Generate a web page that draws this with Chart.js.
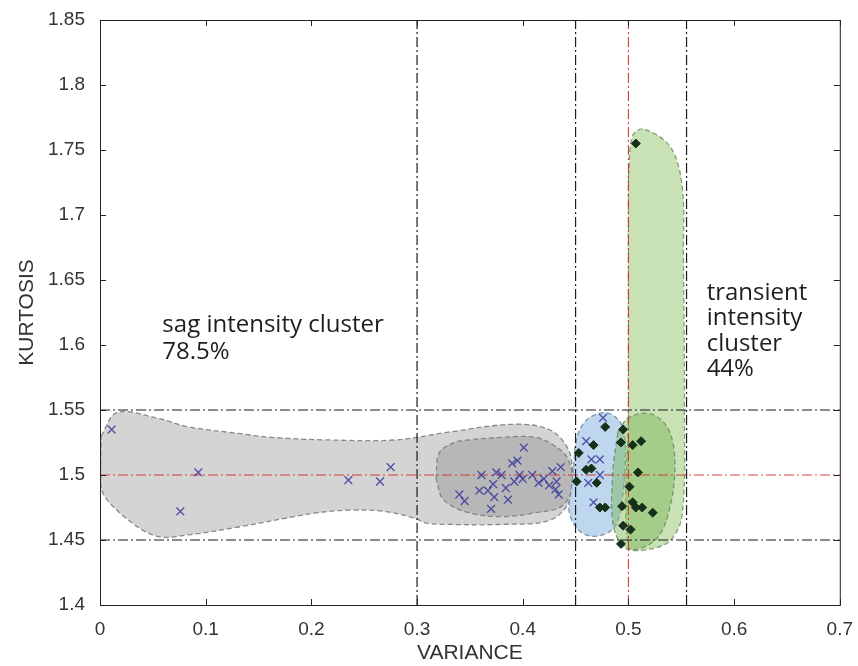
<!DOCTYPE html>
<html>
<head>
<meta charset="utf-8">
<script src="https://cdn.jsdelivr.net/npm/chart.js@4.4.0/dist/chart.umd.min.js"></script>
<style>
  html, body { margin: 0; padding: 0; background: #fff; }
  #wrap { width: 858px; height: 666px; }
</style>
</head>
<body>
<div id="wrap"><canvas id="grafico" width="858" height="666"></canvas></div>
<script>
// ticks
const xTicks = [0, 0.1, 0.2, 0.3, 0.4, 0.5, 0.6, 0.7];
const xTickLabels = ["0", "0.1", "0.2", "0.3", "0.4", "0.5", "0.6", "0.7"];
const yTicks = [1.4, 1.45, 1.5, 1.55, 1.6, 1.65, 1.7, 1.75, 1.8, 1.85];
const yTickLabels = ["1.4", "1.45", "1.5", "1.55", "1.6", "1.65", "1.7", "1.75", "1.8", "1.85"];

// limiares (linhas tracejadas)
const limiaresX = [0.3, 0.45, 0.555];
const limiaresY = [1.45, 1.55];
const limiarVermelhoX = 0.5;
const limiarVermelhoY = 1.5;

// pontos sag (x azul)
const cruces = [
  [0.011, 1.535], [0.076, 1.472], [0.093, 1.502], [0.235, 1.496], [0.265, 1.495], [0.275, 1.506],
  [0.340, 1.485], [0.345, 1.480], [0.361, 1.500], [0.359, 1.488], [0.367, 1.488], [0.370, 1.474],
  [0.372, 1.493], [0.373, 1.483], [0.375, 1.502], [0.380, 1.500], [0.384, 1.490], [0.386, 1.481],
  [0.390, 1.509], [0.392, 1.495], [0.395, 1.511], [0.397, 1.500], [0.400, 1.497], [0.401, 1.521],
  [0.409, 1.500], [0.415, 1.494], [0.420, 1.497], [0.425, 1.492], [0.428, 1.503], [0.432, 1.495],
  [0.431, 1.489], [0.434, 1.485], [0.436, 1.506],
  [0.476, 1.544], [0.460, 1.526], [0.465, 1.512], [0.473, 1.512], [0.473, 1.500], [0.462, 1.494],
  [0.467, 1.479]
];

// pontos transient (losangos)
const losangos = [
  [0.478, 1.537], [0.467, 1.523], [0.453, 1.517], [0.460, 1.504], [0.465, 1.505], [0.451, 1.495],
  [0.470, 1.494], [0.473, 1.475], [0.478, 1.475],
  [0.495, 1.535], [0.493, 1.525], [0.504, 1.523], [0.512, 1.526], [0.509, 1.502], [0.501, 1.491],
  [0.494, 1.476], [0.504, 1.479], [0.507, 1.475], [0.513, 1.475], [0.523, 1.471], [0.495, 1.461],
  [0.502, 1.458], [0.493, 1.447], [0.507, 1.755]
];

// contornos das regiões
const regiaoSagExterna = [
  [0.001, 1.530], [0.016, 1.548], [0.053, 1.544], [0.084, 1.537], [0.131, 1.532], [0.162, 1.529],
  [0.215, 1.527], [0.280, 1.527], [0.330, 1.533], [0.390, 1.539], [0.425, 1.535], [0.443, 1.520],
  [0.447, 1.499], [0.443, 1.478], [0.425, 1.465], [0.380, 1.462], [0.330, 1.462], [0.309, 1.463],
  [0.297, 1.467], [0.269, 1.472], [0.237, 1.473], [0.206, 1.471], [0.184, 1.468], [0.131, 1.460],
  [0.084, 1.454], [0.053, 1.453], [0.020, 1.470], [0.001, 1.490], [0.001, 1.530]
];
const regiaoSagInterna = [
  [0.318, 1.497], [0.321, 1.517], [0.335, 1.525], [0.349, 1.527], [0.381, 1.529], [0.412, 1.529],
  [0.431, 1.522], [0.443, 1.512], [0.447, 1.491], [0.437, 1.476], [0.412, 1.471], [0.381, 1.468],
  [0.349, 1.471], [0.325, 1.481], [0.318, 1.497]
];
const regiaoAzul = [
  [0.448, 1.506], [0.451, 1.528], [0.460, 1.542], [0.477, 1.548], [0.490, 1.543], [0.496, 1.532],
  [0.497, 1.510], [0.494, 1.481], [0.487, 1.460], [0.471, 1.453], [0.455, 1.456], [0.444, 1.471],
  [0.446, 1.490], [0.448, 1.506]
];
const regiaoVerdeAlta = [
  [0.500, 1.730], [0.504, 1.761], [0.515, 1.766], [0.540, 1.752], [0.551, 1.721], [0.552, 1.670],
  [0.553, 1.550], [0.551, 1.470], [0.540, 1.450], [0.520, 1.443], [0.500, 1.445], [0.500, 1.550],
  [0.500, 1.730]
];
const regiaoVerdeBaixa = [
  [0.490, 1.533], [0.500, 1.544], [0.521, 1.547], [0.538, 1.535], [0.544, 1.506], [0.537, 1.468],
  [0.524, 1.449], [0.499, 1.443], [0.486, 1.460], [0.485, 1.500], [0.490, 1.533]
];

// textos
const textoSag = ["sag intensity cluster", "78.5%"];
const posTextoSag = [0.059, 1.615];
const textoTransient = ["transient", "intensity", "cluster", "44%"];
const posTextoTransient = [0.574, 1.640];

const pts = (arr) => arr.map(([x, y]) => ({ x, y }));

function linhaTracejada(dados, cor, largura) {
  return {
    type: "scatter",
    data: dados,
    showLine: true,
    borderColor: cor,
    borderWidth: largura,
    borderDash: [10, 3, 2, 3],
    pointRadius: 0,
    fill: false,
    order: 1,
  };
}

function regiao(dados, fundo, borda, ordem) {
  return {
    type: "scatter",
    data: pts(dados),
    showLine: true,
    tension: 0.35,
    borderColor: borda,
    borderWidth: 1.3,
    borderDash: [5, 3],
    backgroundColor: fundo,
    fill: "shape",
    pointRadius: 0,
    order: ordem,
  };
}

const datasets = [
  {
    type: "scatter",
    data: pts(losangos),
    pointStyle: "rectRot",
    pointRadius: 4.5,
    backgroundColor: "#17301b",
    borderColor: "#17301b",
    borderWidth: 1,
    order: 0,
  },
  {
    type: "scatter",
    data: pts(cruces),
    pointStyle: "crossRot",
    pointRadius: 5.5,
    borderColor: "rgba(60,60,160,0.85)",
    borderWidth: 1.4,
    order: 0,
  },
  ...limiaresX.map((v) => linhaTracejada([{ x: v, y: 1.4 }, { x: v, y: 1.85 }], "#1a1a1a", 1.2)),
  ...limiaresY.map((v) => linhaTracejada([{ x: 0, y: v }, { x: 0.7, y: v }], "#1a1a1a", 1.2)),
  linhaTracejada([{ x: limiarVermelhoX, y: 1.4 }, { x: limiarVermelhoX, y: 1.85 }], "rgba(210,45,40,0.9)", 1.1),
  linhaTracejada([{ x: 0, y: limiarVermelhoY }, { x: 0.7, y: limiarVermelhoY }], "rgba(210,45,40,0.9)", 1.1),
  regiao(regiaoVerdeBaixa, "rgba(120,180,85,0.45)", "rgba(95,140,80,0.8)", 2),
  regiao(regiaoAzul, "rgb(190,215,238)", "rgba(110,130,150,0.8)", 3),
  regiao(regiaoVerdeAlta, "rgb(200,226,182)", "rgba(105,140,90,0.8)", 4),
  regiao(regiaoSagInterna, "rgb(183,183,183)", "rgba(120,120,120,0.85)", 5),
  regiao(regiaoSagExterna, "rgb(212,212,212)", "rgba(120,120,120,0.85)", 6),
];

const molduraPlugin = {
  id: "moldura",
  afterDraw(chart) {
    const { ctx, chartArea: a, scales } = chart;
    const x = scales.x;
    const y = scales.y;
    ctx.save();
    ctx.strokeStyle = "#222";
    ctx.lineWidth = 1;
    ctx.setLineDash([]);
    ctx.strokeRect(a.left + 0.5, a.top + 0.5, a.right - a.left, a.bottom - a.top);
    ctx.beginPath();
    xTicks.forEach((v) => {
      const px = Math.round(x.getPixelForValue(v)) + 0.5;
      ctx.moveTo(px, a.bottom);
      ctx.lineTo(px, a.bottom - 6);
      ctx.moveTo(px, a.top);
      ctx.lineTo(px, a.top + 6);
    });
    yTicks.forEach((v) => {
      const py = Math.round(y.getPixelForValue(v)) + 0.5;
      ctx.moveTo(a.left, py);
      ctx.lineTo(a.left + 6, py);
      ctx.moveTo(a.right, py);
      ctx.lineTo(a.right - 6, py);
    });
    ctx.stroke();

    ctx.fillStyle = "#1e1e1e";
    ctx.font = '24px "Open Sans", sans-serif';
    ctx.textBaseline = "middle";
    ctx.textAlign = "left";
    const escrever = (linhas, pos, passo) => {
      const px = x.getPixelForValue(pos[0]);
      const py = y.getPixelForValue(pos[1]);
      linhas.forEach((l, i) => ctx.fillText(l, px, py + i * passo));
    };
    escrever(textoSag, posTextoSag, 27);
    escrever(textoTransient, posTextoTransient, 25.5);
    ctx.restore();
  },
};

const fonteEixo = { family: "'Liberation Sans', Arial, sans-serif", size: 19 };

new Chart(document.getElementById("grafico").getContext("2d"), {
  type: "scatter",
  data: { datasets },
  options: {
    responsive: false,
    animation: false,
    layout: { padding: { top: 20, right: 13, left: 0, bottom: 0 } },
    plugins: {
      legend: { display: false },
      tooltip: { enabled: false },
    },
    scales: {
      x: {
        type: "linear",
        min: 0,
        max: 0.7,
        afterBuildTicks: (s) => { s.ticks = xTicks.map((v) => ({ value: v })); },
        afterFit: (s) => { s.height = 61; },
        grid: { display: false },
        border: { display: false },
        ticks: {
          padding: 5,
          color: "#333",
          font: fonteEixo,
          maxRotation: 0,
          callback: (v, i) => xTickLabels[i],
        },
        title: {
          display: true,
          text: "VARIANCE",
          color: "#333",
          font: { family: "'Liberation Sans', Arial, sans-serif", size: 21 },
          padding: { top: 0, bottom: 0 },
        },
      },
      y: {
        type: "linear",
        min: 1.4,
        max: 1.85,
        afterBuildTicks: (s) => { s.ticks = yTicks.map((v) => ({ value: v })); },
        afterFit: (s) => { s.width = 100; },
        grid: { display: false },
        border: { display: false },
        ticks: {
          padding: 7,
          color: "#333",
          font: fonteEixo,
          callback: (v, i) => yTickLabels[i],
        },
        title: {
          display: true,
          text: "KURTOSIS",
          color: "#333",
          font: { family: "'Liberation Sans', Arial, sans-serif", size: 21 },
          padding: { top: 15, bottom: 0 },
        },
      },
    },
  },
  plugins: [molduraPlugin],
});
</script>
</body>
</html>
